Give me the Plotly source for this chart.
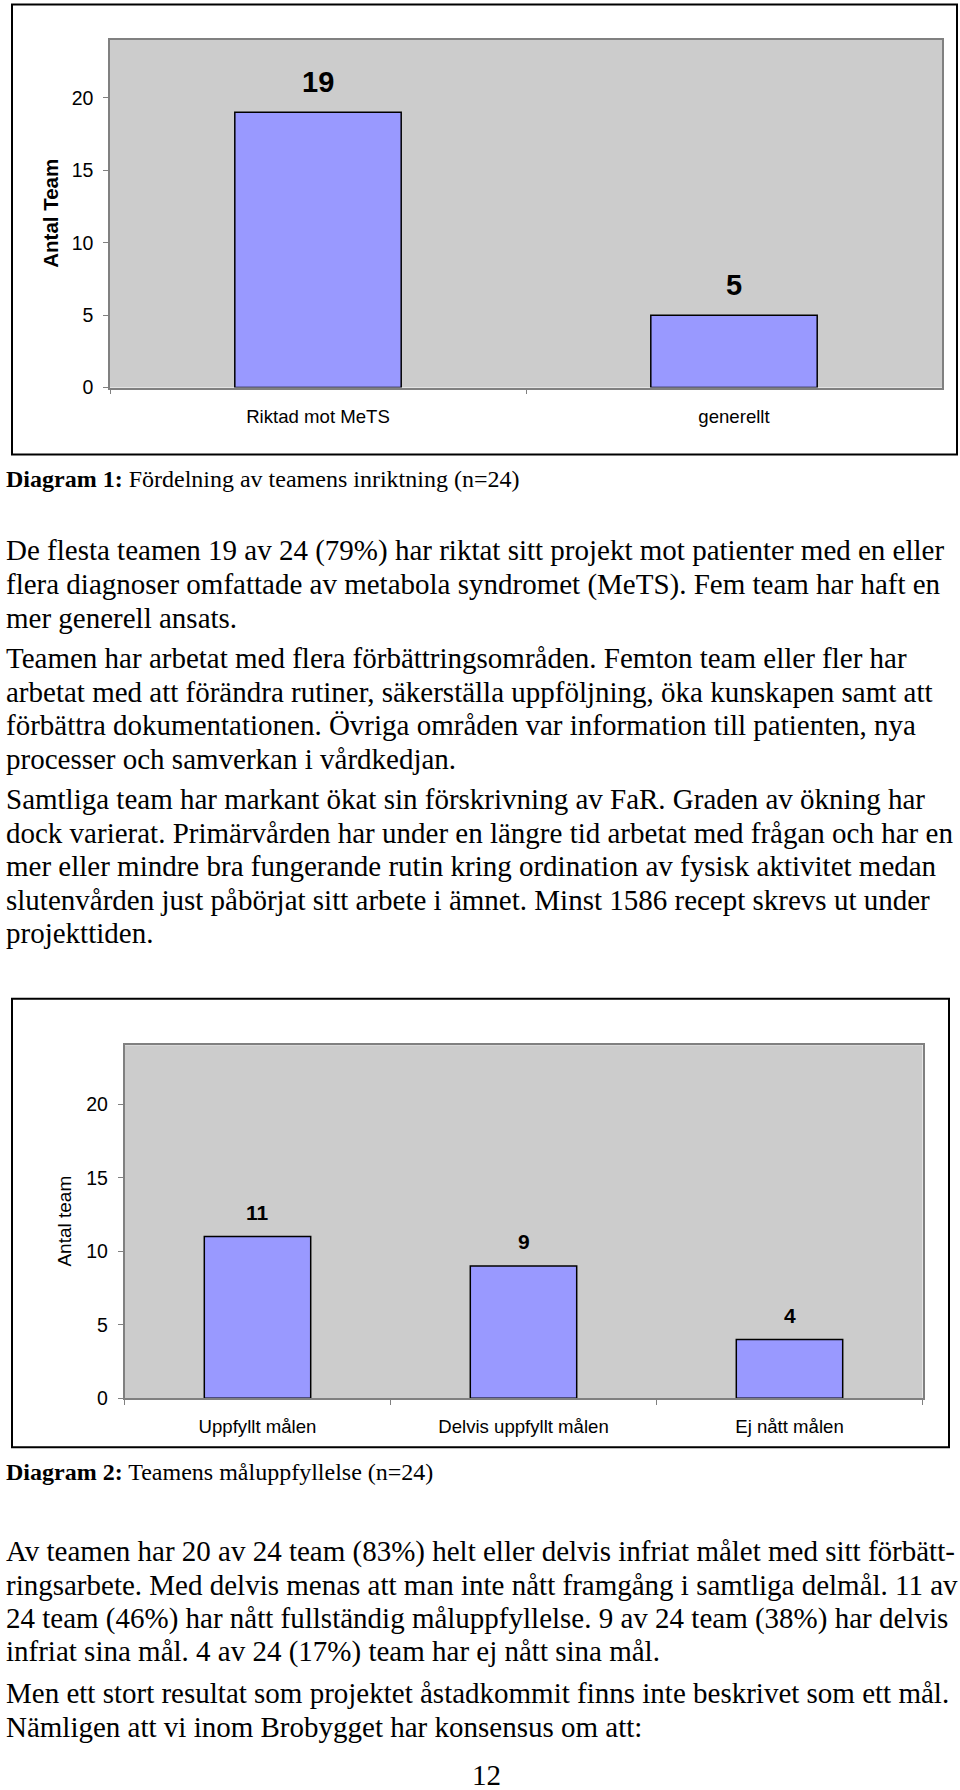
import plotly.graph_objects as go

W, H = 960, 1790

# Diagram 1 data
inriktning_kat = ["Riktad mot MeTS", "generellt"]
inriktning_antal = [19, 5]

# Diagram 2 data
mal_kat = ["Uppfyllt målen", "Delvis uppfyllt målen", "Ej nått målen"]
mal_antal = [11, 9, 4]

y_ticks = [0, 5, 10, 15, 20]

caption_1 = "<b>Diagram 1:</b> Fördelning av teamens inriktning (n=24)"
caption_2 = "<b>Diagram 2:</b> Teamens måluppfyllelse (n=24)"

para_1 = [
    "De flesta teamen 19 av 24 (79%) har riktat sitt projekt mot patienter med en eller",
    "flera diagnoser omfattade av metabola syndromet (MeTS). Fem team har haft en",
    "mer generell ansats.",
]
para_2 = [
    "Teamen har arbetat med flera förbättringsområden. Femton team eller fler har",
    "arbetat med att förändra rutiner, säkerställa uppföljning, öka kunskapen samt att",
    "förbättra dokumentationen. Övriga områden var information till patienten, nya",
    "processer och samverkan i vårdkedjan.",
]
para_3 = [
    "Samtliga team har markant ökat sin förskrivning av FaR. Graden av ökning har",
    "dock varierat. Primärvården har under en längre tid arbetat med frågan och har en",
    "mer eller mindre bra fungerande rutin kring ordination av fysisk aktivitet medan",
    "slutenvården just påbörjat sitt arbete i ämnet. Minst 1586 recept skrevs ut under",
    "projekttiden.",
]
para_4 = [
    "Av teamen har 20 av 24 team (83%) helt eller delvis infriat målet med sitt förbätt-",
    "ringsarbete. Med delvis menas att man inte nått framgång i samtliga delmål. 11 av",
    "24 team (46%) har nått fullständig måluppfyllelse. 9 av 24 team (38%) har delvis",
    "infriat sina mål. 4 av 24 (17%) team har ej nått sina mål.",
]
para_5 = [
    "Men ett stort resultat som projektet åstadkommit finns inte beskrivet som ett mål.",
    "Nämligen att vi inom Brobygget har konsensus om att:",
]
page_no = "12"

# small vertical correction, the photographed page came out ~0.5% short
K = 1.005


def px(x):
    return x / W


def py(y):
    return 1 - y * K / H


SANS = "Liberation Sans, Arial, sans-serif"
SERIF = "Liberation Serif, Times New Roman, serif"
BAR = "#9999ff"
GRAY = "#808080"

fig = go.Figure()

fig.add_trace(go.Bar(x=inriktning_kat, y=inriktning_antal, width=0.4,
                     marker=dict(color=BAR, line=dict(color="black", width=1.5)),
                     xaxis="x", yaxis="y", showlegend=False, hoverinfo="skip"))
fig.add_trace(go.Bar(x=mal_kat, y=mal_antal, width=0.4,
                     marker=dict(color=BAR, line=dict(color="black", width=1.5)),
                     xaxis="x2", yaxis="y2", showlegend=False, hoverinfo="skip"))

axis_common = dict(showline=True, mirror=True, linecolor=GRAY, linewidth=1.5,
                   showgrid=False, zeroline=False, ticks="outside", ticklen=5,
                   tickcolor=GRAY)
x_font = dict(family=SANS, size=18.6, color="black")
y_font = dict(family=SANS, size=19.5, color="black")

fig.update_layout(
    width=W, height=H,
    margin=dict(l=0, r=0, t=0, b=0),
    paper_bgcolor="white",
    plot_bgcolor="#cccccc",
    xaxis=dict(domain=[px(110), px(942)], anchor="y", tickson="boundaries",
               ticklabelstandoff=11, tickfont=x_font, **axis_common),
    yaxis=dict(domain=[py(388), py(40)], anchor="x", range=[0, 24],
               tickvals=y_ticks, ticklabelstandoff=6, tickfont=y_font, **axis_common),
    xaxis2=dict(domain=[px(124.5), px(922.5)], anchor="y2", tickson="boundaries",
                ticklabelstandoff=11, tickfont=x_font, **axis_common),
    yaxis2=dict(domain=[py(1400), py(1046.5)], anchor="x2", range=[0, 24],
                tickvals=y_ticks, ticklabelstandoff=6, tickfont=y_font, **axis_common),
)

# frames around the two charts
fig.add_shape(type="rect", xref="paper", yref="paper",
              x0=px(12), x1=px(957), y0=py(455), y1=py(4.5),
              line=dict(color="black", width=2), layer="below")
fig.add_shape(type="rect", xref="paper", yref="paper",
              x0=px(12), x1=px(949), y0=py(1449), y1=py(1000),
              line=dict(color="black", width=2), layer="below")

# value labels above bars
for k, v in zip(inriktning_kat, inriktning_antal):
    fig.add_annotation(x=k, y=v, xref="x", yref="y", text=f"<b>{v}</b>",
                       showarrow=False, yanchor="middle", yshift=30,
                       font=dict(family=SANS, size=29, color="black"))
for k, v in zip(mal_kat, mal_antal):
    fig.add_annotation(x=k, y=v, xref="x2", yref="y2", text=f"<b>{v}</b>",
                       showarrow=False, yanchor="middle", yshift=24.5,
                       font=dict(family=SANS, size=21, color="black"))

# y axis titles
fig.add_annotation(x=px(51), y=py(214), xref="paper", yref="paper",
                   text="<b>Antal Team</b>", textangle=-90, showarrow=False,
                   xanchor="center", yanchor="middle",
                   font=dict(family=SANS, size=20.5, color="black"))
fig.add_annotation(x=px(65), y=py(1223), xref="paper", yref="paper",
                   text="Antal team", textangle=-90, showarrow=False,
                   xanchor="center", yanchor="middle",
                   font=dict(family=SANS, size=19, color="black"))


def text_line(s, y, size=29, x=4, xanchor="left"):
    fig.add_annotation(x=px(x), y=py(y), xref="paper", yref="paper", text=s,
                       showarrow=False, xanchor=xanchor, yanchor="middle",
                       font=dict(family=SERIF, size=size, color="black"))


text_line(caption_1, 480, size=24)
text_line(caption_2, 1474, size=24)

blocks = [
    (para_1, 551.5),
    (para_2, 659),
    (para_3, 800),
    (para_4, 1553),
    (para_5, 1695),
]
for lines, y0 in blocks:
    for i, s in enumerate(lines):
        text_line(s, y0 + i * 33.6)

text_line(page_no, 1777, x=486, xanchor="center")

fig.write_html(
    "out.html",
    config={"displayModeBar": False},
    post_script=(
        "var d=document.getElementById('{plot_id}');"
        "d.style.position='absolute';d.style.left='0px';d.style.top='0px';"
        "document.body.style.margin='0';document.body.style.overflow='hidden';"
    ),
)
